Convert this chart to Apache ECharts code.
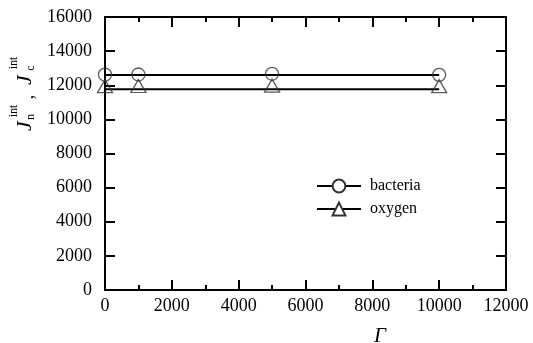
<!DOCTYPE html>
<html><head><meta charset="utf-8">
<script src="https://cdn.jsdelivr.net/npm/echarts@6/dist/echarts.min.js"></script>
<style>html,body{margin:0;padding:0;background:#fff}#c{width:533px;height:343px}</style>
</head><body><div id="c"></div>
<script>
var gammaValues = [0, 1000, 5000, 10000];
var bacteriaValues = [12620, 12630, 12670, 12610];
var oxygenValues = [11770, 11780, 11800, 11770];
var fitX = [0, 10000];
var bacteriaFit = [12600, 12600];
var oxygenFit = [11770, 11770];
var xTicks = [0, 2000, 4000, 6000, 8000, 10000, 12000];
var yTicks = [0, 2000, 4000, 6000, 8000, 10000, 12000, 14000, 16000];

var FONT = '"Liberation Serif", "Times New Roman", serif';
var INK = '#000';
var MK = '#333';

function pairs(xs, ys){ return xs.map(function(x,i){ return [x, ys[i]]; }); }
function plain(v){ return String(v); }

var chart = echarts.init(document.getElementById('c'), null, {renderer:'canvas'});
var axisCommon = {
  axisLine:{show:true, onZero:false, lineStyle:{color:INK, width:2}},
  axisTick:{show:true, inside:true, length:10, lineStyle:{color:INK, width:2}},
  splitLine:{show:false}
};
chart.setOption({
  animation:false,
  backgroundColor:'#fff',
  grid:{left:105, right:27, top:17, bottom:53, containLabel:false},
  xAxis:[
    Object.assign({type:'value', position:'bottom', min:xTicks[0], max:xTicks[xTicks.length-1], interval:2000,
      minorTick:{show:true, splitNumber:2, length:5, lineStyle:{color:INK, width:2}},
      axisLabel:{color:INK, fontFamily:FONT, fontSize:18, margin:7, formatter:plain}}, axisCommon),
    Object.assign({type:'value', position:'top', min:xTicks[0], max:xTicks[xTicks.length-1], interval:2000,
      minorTick:{show:true, splitNumber:2, length:5, lineStyle:{color:INK, width:2}},
      axisLabel:{show:false}}, axisCommon)
  ],
  yAxis:[
    Object.assign({type:'value', position:'left', min:yTicks[0], max:yTicks[yTicks.length-1], interval:2000,
      axisLabel:{color:INK, fontFamily:FONT, fontSize:18, margin:13, formatter:plain}}, axisCommon),
    Object.assign({type:'value', position:'right', min:yTicks[0], max:yTicks[yTicks.length-1], interval:2000,
      axisLabel:{show:false}}, axisCommon)
  ],
  legend:{
    left:311, top:173, orient:'vertical', itemWidth:44, itemHeight:16, itemGap:7,
    textStyle:{color:INK, fontFamily:FONT, fontSize:16, padding:[0,0,0,4]},
    data:['bacteria', 'oxygen']
  },
  series:[
    {name:'bacteria', type:'line', data:pairs(fitX, bacteriaFit), showSymbol:false, symbol:'circle', symbolSize:13,
      lineStyle:{color:INK, width:2}, itemStyle:{color:'#fff', borderColor:MK, borderWidth:1.3}, z:2},
    {name:'oxygen', type:'line', data:pairs(fitX, oxygenFit), showSymbol:false, symbol:'triangle', symbolSize:[16,13],
      lineStyle:{color:INK, width:2}, itemStyle:{color:'#fff', borderColor:MK, borderWidth:1.3}, z:2},
    {name:'bacteria', type:'scatter', data:pairs(gammaValues, bacteriaValues), symbol:'circle', symbolSize:13,
      itemStyle:{color:'rgba(255,255,255,0)', borderColor:MK, borderWidth:1.3}, z:3},
    {name:'oxygen', type:'scatter', data:pairs(gammaValues, oxygenValues), symbol:'triangle', symbolSize:[15,13], symbolOffset:[0,-3],
      itemStyle:{color:'rgba(255,255,255,0)', borderColor:MK, borderWidth:1.3}, z:3}
  ],
  graphic:[
    {type:'text', x:380, y:336, rotation:0, style:{text:'Γ', font:'italic 21px '+FONT, fill:INK, textAlign:'center', textVerticalAlign:'middle'}},
    {type:'text', x:25, y:126, rotation:Math.PI/2, style:{text:'J', font:'italic 22px '+FONT, fill:INK, textAlign:'center', textVerticalAlign:'middle'}},
    {type:'text', x:14, y:111, rotation:Math.PI/2, style:{text:'int', font:'12px '+FONT, fill:INK, textAlign:'center', textVerticalAlign:'middle'}},
    {type:'text', x:31, y:117, rotation:Math.PI/2, style:{text:'n', font:'12px '+FONT, fill:INK, textAlign:'center', textVerticalAlign:'middle'}},
    {type:'text', x:28, y:97, rotation:Math.PI/2, style:{text:',', font:'18px '+FONT, fill:INK, textAlign:'center', textVerticalAlign:'middle'}},
    {type:'text', x:25, y:80, rotation:Math.PI/2, style:{text:'J', font:'italic 22px '+FONT, fill:INK, textAlign:'center', textVerticalAlign:'middle'}},
    {type:'text', x:14, y:63, rotation:Math.PI/2, style:{text:'int', font:'12px '+FONT, fill:INK, textAlign:'center', textVerticalAlign:'middle'}},
    {type:'text', x:31, y:68, rotation:Math.PI/2, style:{text:'c', font:'12px '+FONT, fill:INK, textAlign:'center', textVerticalAlign:'middle'}}
  ]
});
</script></body></html>
